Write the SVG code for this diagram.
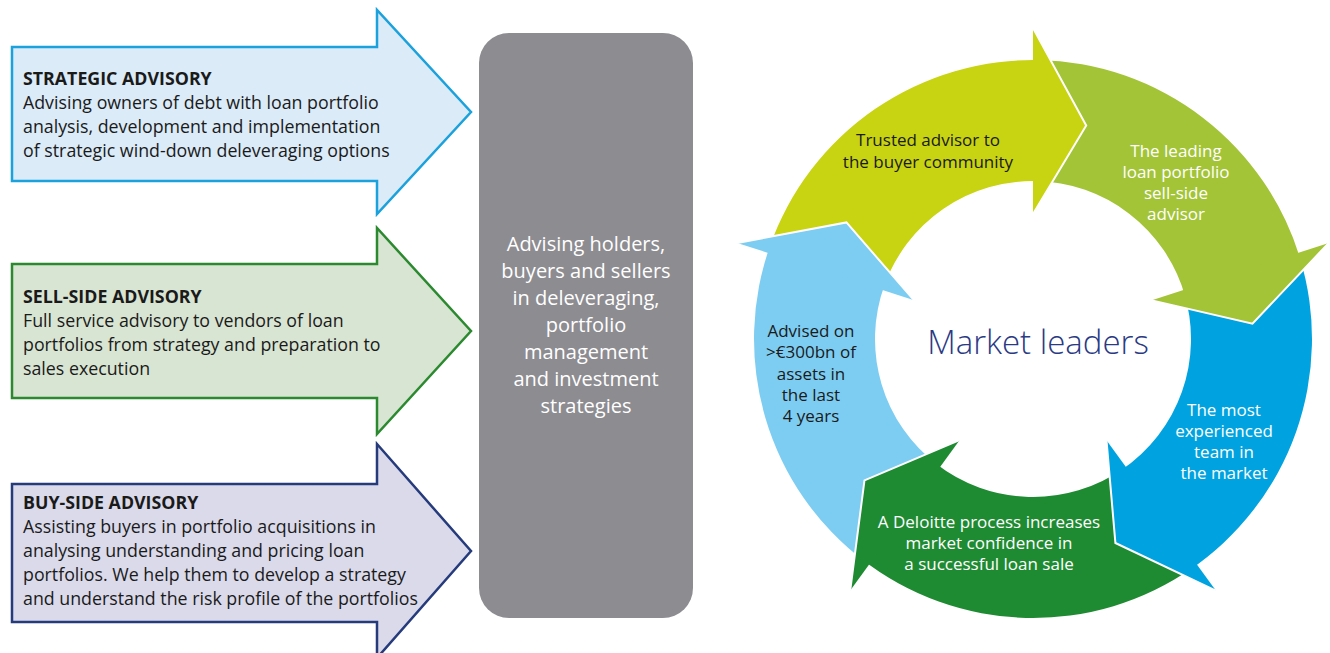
<svg xmlns="http://www.w3.org/2000/svg" width="1330" height="653" viewBox="0 0 1330 653">
<style>
.t{font-family:"Open Sans","Noto Sans","Liberation Sans",sans-serif;}
.lt{font-size:17.8px;fill:#1a1a1a;}
.lt .b{font-weight:bold;}
.ct{font-size:20px;fill:#ffffff;text-anchor:middle;}
.rt{font-size:17px;text-anchor:middle;}
.dk{fill:#1a1a1a;}
.wh{fill:#ffffff;}
.head{stroke:#ffffff;stroke-width:2;stroke-linejoin:miter;}
</style>
<rect width="1330" height="653" fill="#ffffff"/>
<g id="strategic">
<path d="M12,47 L377,47 L377,10 L471,112 L377,214 L377,181 L12,181 Z" fill="#dbebf8" stroke="#1ba1dc" stroke-width="2.5"/>
<text class="t lt"><tspan class="b" x="23" y="85">STRATEGIC ADVISORY</tspan><tspan x="23" y="109">Advising owners of debt with loan portfolio</tspan><tspan x="23" y="133">analysis, development and implementation</tspan><tspan x="23" y="157">of strategic wind-down deleveraging options</tspan></text>
</g>
<g id="sellside">
<path d="M12,264 L377,264 L377,228 L471,331 L377,434 L377,398 L12,398 Z" fill="#d9e5d3" stroke="#2b8a2f" stroke-width="2.5"/>
<text class="t lt"><tspan class="b" x="23" y="303">SELL-SIDE ADVISORY</tspan><tspan x="23" y="327">Full service advisory to vendors of loan</tspan><tspan x="23" y="351">portfolios from strategy and preparation to</tspan><tspan x="23" y="375">sales execution</tspan></text>
</g>
<g id="buyside">
<path d="M12,484 L377,484 L377,444 L471,551 L377,658 L377,622 L12,622 Z" fill="#dadaeb" stroke="#253b7c" stroke-width="2.5"/>
<text class="t lt"><tspan class="b" x="23" y="509">BUY-SIDE ADVISORY</tspan><tspan x="23" y="533">Assisting buyers in portfolio acquisitions in</tspan><tspan x="23" y="557">analysing understanding and pricing loan</tspan><tspan x="23" y="581">portfolios. We help them to develop a strategy</tspan><tspan x="23" y="605">and understand the risk profile of the portfolios</tspan></text>
</g>
<g id="centre">
<rect x="479" y="33" width="214" height="585" rx="30" fill="#8d8c91"/>
<text class="t ct"><tspan x="586" y="251">Advising holders,</tspan><tspan x="586" y="278">buyers and sellers</tspan><tspan x="586" y="305">in deleveraging,</tspan><tspan x="586" y="332">portfolio</tspan><tspan x="586" y="359">management</tspan><tspan x="586" y="386">and investment</tspan><tspan x="586" y="413">strategies</tspan></text>
</g>
<g id="connectors">
<path d="M769.20,248.17 A279,279 0 0 1 1042.74,60.17 L1038.51,181.10 A158,158 0 0 0 883.61,287.56 Z" fill="#c8d411"/>
<path d="M1037.87,60.04 A279,279 0 0 1 1301.19,262.10 L1184.88,295.45 A158,158 0 0 0 1035.76,181.02 Z" fill="#a3c437"/>
<path d="M1299.81,257.43 A279,279 0 0 1 1189.01,570.30 L1121.35,469.99 A158,158 0 0 0 1184.10,292.81 Z" fill="#00a3e0"/>
<path d="M1193.03,567.54 A279,279 0 0 1 861.23,558.85 L935.73,463.51 A158,158 0 0 0 1123.63,468.43 Z" fill="#1e8b32"/>
<path d="M865.09,561.82 A279,279 0 0 1 770.83,243.58 L884.53,284.96 A158,158 0 0 0 937.91,465.19 Z" fill="#7dcdf2"/>
<path class="head" d="M1033,28 L1086.22,125.53 L1033,214" fill="#c8d411"/>
<path class="head" d="M1328.78,242.90 L1252.46,323.65 L1151.88,300.37" fill="#a3c437"/>
<path class="head" d="M1215.80,590.60 L1115.41,542.98 L1106.47,440.13" fill="#00a3e0"/>
<path class="head" d="M850.20,590.60 L864.47,480.41 L959.53,440.13" fill="#1e8b32"/>
<path class="head" d="M737.22,242.90 L846.43,222.42 L914.12,300.37" fill="#7dcdf2"/>
</g>
<g id="trusted"><text class="t rt dk"><tspan x="928" y="146">Trusted advisor to</tspan><tspan x="928" y="168">the buyer community</tspan></text></g>
<g id="leading"><text class="t rt wh"><tspan x="1176" y="157">The leading</tspan><tspan x="1176" y="178">loan portfolio</tspan><tspan x="1176" y="199">sell-side</tspan><tspan x="1176" y="220">advisor</tspan></text></g>
<g id="experienced"><text class="t rt wh"><tspan x="1224" y="416">The most</tspan><tspan x="1224" y="437">experienced</tspan><tspan x="1224" y="458">team in</tspan><tspan x="1224" y="479">the market</tspan></text></g>
<g id="deloitte"><text class="t rt wh"><tspan x="989" y="528">A Deloitte process increases</tspan><tspan x="989" y="549">market confidence in</tspan><tspan x="989" y="570">a successful loan sale</tspan></text></g>
<g id="advised"><text class="t rt dk"><tspan x="811" y="337">Advised on</tspan><tspan x="811" y="358">&gt;€300bn of</tspan><tspan x="811" y="380">assets in</tspan><tspan x="811" y="401">the last</tspan><tspan x="811" y="422">4 years</tspan></text></g>
<g id="market"><text class="t" x="1038" y="354" font-size="33" font-weight="300" fill="#2a3a84" text-anchor="middle">Market leaders</text></g>
</svg>
